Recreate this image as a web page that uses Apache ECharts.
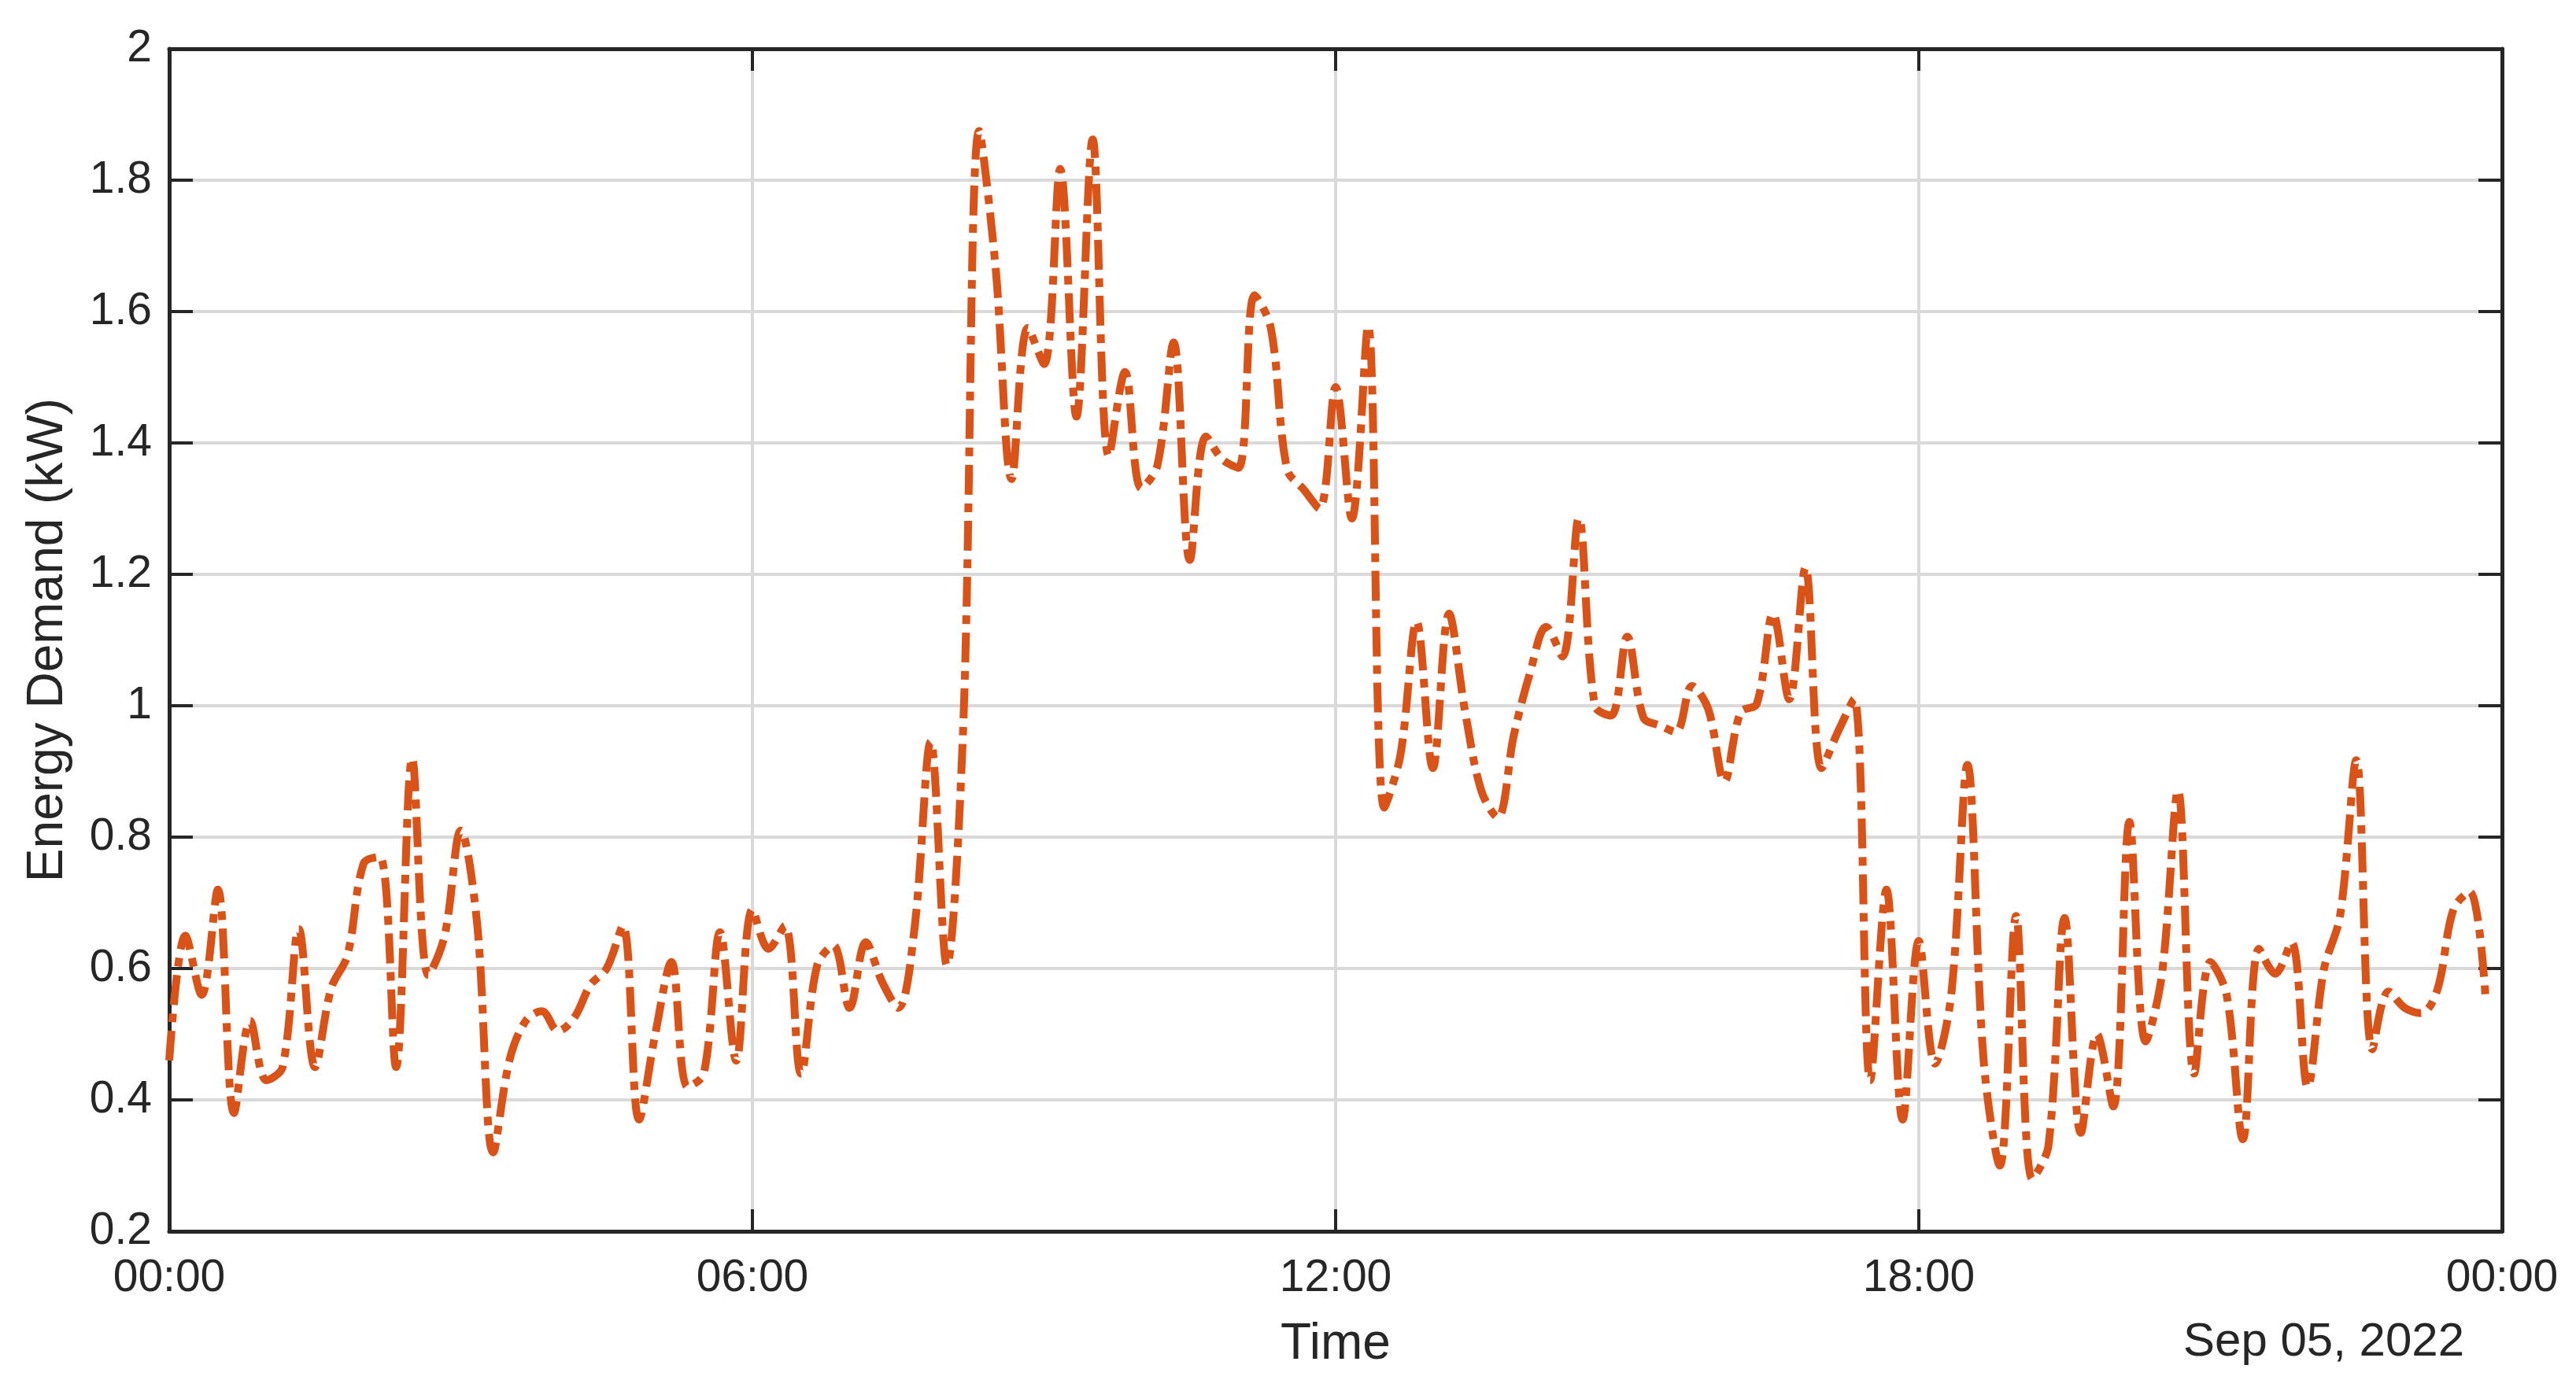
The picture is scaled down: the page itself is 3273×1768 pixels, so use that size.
<!DOCTYPE html>
<html>
<head>
<meta charset="utf-8">
<script src="https://cdn.jsdelivr.net/npm/echarts@6/dist/echarts.min.js"></script>
<style>
html,body{margin:0;padding:0;background:#fff;}
#chart{width:3273px;height:1768px;}
</style>
</head>
<body>
<div id="chart"></div>
<script>
// ---- data (10-minute samples, Sep 05, 2022, 00:00 .. 23:50) ----
const sampleStepMinutes = 10;
const demandKW = [
  0.46, 0.65, 0.56, 0.72, 0.38, 0.52, 0.43, 0.45, 0.66, 0.45,
  0.57, 0.62, 0.76, 0.77, 0.45, 0.92, 0.59, 0.65, 0.81, 0.67,
  0.32, 0.46, 0.52, 0.535, 0.505, 0.525, 0.575, 0.60, 0.665, 0.37,
  0.50, 0.61, 0.42, 0.44, 0.655, 0.46, 0.69, 0.63, 0.665, 0.44,
  0.605, 0.635, 0.54, 0.64, 0.58, 0.54, 0.66, 0.945, 0.605, 0.96,
  1.875, 1.67, 1.345, 1.575, 1.52, 1.817, 1.44, 1.862, 1.38, 1.508,
  1.331, 1.366, 1.553, 1.222, 1.41, 1.375, 1.362, 1.625, 1.575, 1.36,
  1.33, 1.30, 1.485, 1.285, 1.578, 0.845, 0.925, 1.128, 0.905, 1.14,
  0.99, 0.87, 0.83, 0.955, 1.05, 1.12, 1.075, 1.285, 1.0, 0.985,
  1.105, 0.982, 0.97, 0.96, 1.03, 0.995, 0.885, 0.99, 1.003, 1.14,
  1.01, 1.21, 0.905, 0.96, 1.01, 0.43, 0.72, 0.37, 0.642, 0.455,
  0.56, 0.91, 0.46, 0.30, 0.68, 0.28, 0.33, 0.677, 0.35, 0.50,
  0.39, 0.823, 0.489, 0.59, 0.871, 0.44, 0.61, 0.56, 0.34, 0.63,
  0.592, 0.64, 0.42, 0.598, 0.68, 0.917, 0.477, 0.565, 0.54, 0.532,
  0.567, 0.69, 0.717, 0.55
];
const xTickMinutes = [0, 360, 720, 1080, 1440];
const xTickLabels = ['00:00', '06:00', '12:00', '18:00', '00:00'];
const yTicks = [0.2, 0.4, 0.6, 0.8, 1, 1.2, 1.4, 1.6, 1.8, 2];
const dateLabel = 'Sep 05, 2022';
const xTitle = 'Time';
const yTitle = 'Energy Demand (kW)';

const seriesData = demandKW.map((v, i) => [i * sampleStepMinutes, v]);

const FONT = '"Liberation Sans", Arial, Helvetica, sans-serif';
const TXT = '#262626';
const AX = '#262626';
const GRIDC = '#d9d9d9';

const chart = echarts.init(document.getElementById('chart'), null, {renderer: 'canvas'});

const xCommon = {
  type: 'value', min: 0, max: 1440, interval: 360,
  axisLine: {show: true, onZero: false, lineStyle: {color: AX, width: 5}},
  axisTick: {show: true, inside: true, length: 28, lineStyle: {color: AX, width: 4}},
};
const yCommon = {
  type: 'value', min: 0.2, max: 2, interval: 0.2,
  axisLine: {show: true, onZero: false, lineStyle: {color: AX, width: 5}},
  axisTick: {show: true, inside: true, length: 30, lineStyle: {color: AX, width: 4}},
};

chart.setOption({
  animation: false,
  backgroundColor: '#fff',
  grid: {left: 215, right: 94, top: 62, bottom: 203, containLabel: false},
  xAxis: [
    Object.assign({}, xCommon, {
      position: 'bottom',
      name: xTitle, nameLocation: 'middle', nameGap: 112,
      nameTextStyle: {fontFamily: FONT, fontSize: 64, color: TXT},
      axisLabel: {
        show: true, margin: 32, fontFamily: FONT, fontSize: 57, color: TXT,
        formatter: function (v) {
          const k = xTickMinutes.indexOf(Math.round(v));
          return k >= 0 ? xTickLabels[k] : '';
        }
      },
      splitLine: {show: true, lineStyle: {color: GRIDC, width: 4}}
    }),
    Object.assign({}, xCommon, {
      position: 'top',
      axisLabel: {show: false},
      splitLine: {show: false}
    })
  ],
  yAxis: [
    Object.assign({}, yCommon, {
      position: 'left',
      name: yTitle, nameLocation: 'middle', nameGap: 122, nameRotate: 90,
      nameTextStyle: {fontFamily: FONT, fontSize: 64, color: TXT},
      axisLabel: {
        show: true, margin: 22, fontFamily: FONT, fontSize: 57, color: TXT,
        formatter: function (v) {
          const r = Math.round(v * 10) / 10;
          return yTicks.indexOf(r) >= 0 ? String(r) : '';
        }
      },
      splitLine: {show: true, lineStyle: {color: GRIDC, width: 4}}
    }),
    Object.assign({}, yCommon, {
      position: 'right',
      axisLabel: {show: false},
      splitLine: {show: false}
    })
  ],
  series: [{
    type: 'line',
    xAxisIndex: 0, yAxisIndex: 0,
    data: seriesData,
    smooth: 0.35,
    showSymbol: false,
    symbol: 'none',
    lineStyle: {color: '#D95319', width: 10, type: [38, 11, 11, 11], cap: 'butt', join: 'round'},
    z: 5
  }],
  graphic: [{
    type: 'text',
    x: 3131, y: 1706,
    style: {
      text: dateLabel, fontFamily: FONT, fontSize: 60, fill: TXT,
      textAlign: 'right', textVerticalAlign: 'middle'
    }
  }]
});
</script>
</body>
</html>
